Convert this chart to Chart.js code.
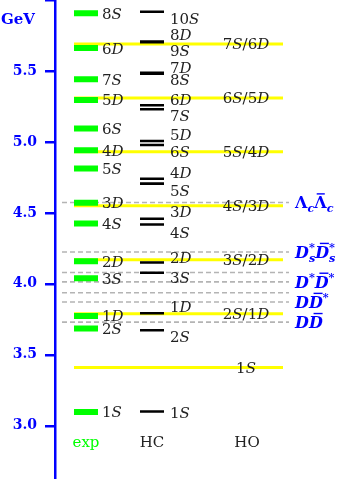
<!DOCTYPE html>
<html>
<head>
<meta charset="utf-8">
<script src="https://cdn.jsdelivr.net/npm/chart.js@4"></script>
<style>
  body { margin: 0; background: #fff; }
  canvas { display: block; }
</style>
</head>
<body>
<canvas id="levels" width="341" height="479"></canvas>
<script>
// Vector charmonium levels (GeV): experiment, HC model, HO model, open-charm thresholds
const expStates = ['1S', '2S', '1D', '3S', '2D', '4S', '3D', '5S', '4D', '6S', '5D', '7S', '6D', '8S'];
const expMass = [3.097, 3.686, 3.773, 4.040, 4.160, 4.426, 4.572, 4.812, 4.941, 5.094, 5.296, 5.442, 5.661, 5.907];

const hcStates = ['1S', '2S', '1D', '3S', '2D', '4S', '3D', '5S', '4D', '6S', '5D', '7S', '6D', '8S', '7D', '9S', '8D', '10S'];
const hcMass = [3.101, 3.673, 3.793, 4.078, 4.150, 4.418, 4.459, 4.706, 4.741, 4.978, 5.006, 5.230, 5.258, 5.481, 5.487, 5.702, 5.708, 5.917];
// where each HC name is written (they are spread out so they do not collide)
const hcLabelAt = [3.090, 3.630, 3.842, 4.042, 4.183, 4.364, 4.512, 4.654, 4.783, 4.929, 5.055, 5.188, 5.301, 5.442, 5.524, 5.646, 5.759, 5.870];

const hoStates = ['1S', '2S/1D', '3S/2D', '4S/3D', '5S/4D', '6S/5D', '7S/6D'];
const hoMass = [3.41, 3.79, 4.17, 4.55, 4.93, 5.31, 5.69];

const thresholdMass = [3.730, 3.872, 3.937, 4.014, 4.080, 4.224, 4.573];
const thresholdNames = [
  [['D', 'i'], ['D', 'ib']],
  [['D', 'i'], ['D', 'ib'], ['*', 'sup']],
  null,
  [['D', 'i'], ['*', 'sup'], ['D', 'ib'], ['*', 'sup']],
  null,
  [['D', 'i'], ['s|*', 'subsup'], ['D', 'ib'], ['s|*', 'subsup']],
  [['Λ', 'r'], ['c', 'sub'], ['Λ', 'rb'], ['c', 'sub']]
];

const yTicks = [3.0, 3.5, 4.0, 4.5, 5.0, 5.5];

// layout
const blue = '#0000ff', green = '#00ff00', yellow = '#ffff00', grey = '#b4b4b4', ink = '#222';
const serif = "'DejaVu Serif', serif";
const expSpan = [74, 98], hcSpan = [140, 164], hoSpan = [74, 283], thrSpan = [62, 289];

// one dataset per column: every level is a short horizontal segment
function segments(masses, span) {
  return masses.flatMap(m => [{ x: span[0], y: m }, { x: span[1], y: m }, { x: span[1], y: null }]);
}

function fontOf(kind, size, bold) {
  const italic = (kind === 'r' || kind === 'rb') ? '' : 'italic ';
  return italic + (bold ? 'bold ' : '') + size + 'px ' + serif;
}

// small math-like text: digits upright, letters italic, sub/superscripts and overbars
function drawRich(ctx, tokens, x, yc, size, color, opts = {}) {
  const bold = !!opts.bold, small = size * 0.7;
  const items = [];
  let w = 0;
  tokens.forEach(([t, k]) => {
    if (k === 'subsup') {
      const [lo, hi] = t.split('|');
      ctx.font = fontOf('i', small, bold);
      const a = ctx.measureText(lo).width, b = ctx.measureText(hi).width;
      items.push({ t: lo, k: 'sub', x: w }, { t: hi, k: 'sup', x: w });
      w += Math.max(a, b);
    } else {
      ctx.font = fontOf(k, (k === 'sub' || k === 'sup') ? small : size, bold);
      const tw = ctx.measureText(t).width;
      items.push({ t, k, x: w, w: tw });
      w += tw;
    }
  });
  const x0 = opts.align === 'center' ? x - w / 2 : x;
  const base = yc + size * 0.36;
  ctx.save();
  ctx.fillStyle = color;
  ctx.strokeStyle = color;
  ctx.textAlign = 'left';
  ctx.textBaseline = 'alphabetic';
  items.forEach(it => {
    const sub = it.k === 'sub', sup = it.k === 'sup';
    ctx.font = fontOf(it.k, (sub || sup) ? small : size, bold);
    const y = base + (sub ? size * 0.25 : sup ? -size * 0.42 : 0);
    ctx.fillText(it.t, x0 + it.x, y);
    if (it.k === 'ib' || it.k === 'rb') {
      const shift = it.k === 'ib' ? size * 0.12 : 0;
      ctx.lineWidth = bold ? 1.4 : 1;
      ctx.beginPath();
      ctx.moveTo(x0 + it.x + it.w * 0.2 + shift, base - size * 0.9);
      ctx.lineTo(x0 + it.x + it.w * 0.85 + shift, base - size * 0.9);
      ctx.stroke();
    }
  });
  ctx.restore();
}

const stateTokens = s => s.split('/').flatMap((p, i) =>
  [...(i ? [['/', 'r']] : []), [p.slice(0, -1), 'r'], [p.slice(-1), 'i']]);

const labelPlugin = {
  id: 'levelLabels',
  afterDatasetsDraw(chart) {
    const ctx = chart.ctx;
    const py = v => chart.scales.y.getPixelForValue(v);

    expStates.forEach((s, i) => drawRich(ctx, stateTokens(s), expSpan[1] + 4, py(expMass[i]), 15, ink));
    hcStates.forEach((s, i) => drawRich(ctx, stateTokens(s), hcSpan[1] + 6, py(hcLabelAt[i]), 15, ink));
    hoStates.forEach((s, i) => drawRich(ctx, stateTokens(s), 246, py(hoMass[i]), 15, ink, { align: 'center' }));
    thresholdNames.forEach((t, i) => {
      if (t) drawRich(ctx, t, thrSpan[1] + 6, py(thresholdMass[i]), 16, blue, { bold: true });
    });

    ctx.save();
    ctx.textAlign = 'center';
    ctx.textBaseline = 'middle';
    ctx.font = '15px ' + serif;
    ctx.fillStyle = green;
    ctx.fillText('exp', 86, 443);
    ctx.fillStyle = ink;
    ctx.fillText('HC', 152, 443);
    ctx.fillText('HO', 247, 443);
    ctx.font = 'bold 15px ' + serif;
    ctx.fillStyle = blue;
    ctx.fillText('GeV', 18, 20);
    ctx.restore();
  }
};

new Chart(document.getElementById('levels'), {
  type: 'scatter',
  data: {
    datasets: [
      { data: segments(expMass, expSpan), showLine: true, borderColor: green, borderWidth: 6, pointRadius: 0, spanGaps: false },
      { data: segments(hcMass, hcSpan), showLine: true, borderColor: '#000', borderWidth: 2.6, pointRadius: 0, spanGaps: false },
      { data: segments(hoMass, hoSpan), showLine: true, borderColor: yellow, borderWidth: 3, pointRadius: 0, spanGaps: false },
      { data: segments(thresholdMass, thrSpan), showLine: true, borderColor: grey, borderWidth: 1.6, borderDash: [5, 3], pointRadius: 0, spanGaps: false }
    ]
  },
  options: {
    responsive: false,
    animation: false,
    layout: { padding: 0 },
    plugins: { legend: { display: false }, tooltip: { enabled: false } },
    scales: {
      x: { type: 'linear', min: 55, max: 341, display: false },
      y: {
        min: 2.625,
        max: 6.0,
        afterFit(scale) {
          scale.width = 55;
          scale.paddingTop = 0;
          scale.paddingBottom = 0;
        },
        afterBuildTicks(scale) {
          scale.ticks = scale.ticks.filter(t => Math.abs(t.value * 2 - Math.round(t.value * 2)) < 1e-6);
        },
        ticks: {
          stepSize: 0.5,
          padding: 8,
          color: blue,
          font: { family: serif, weight: 'bold', size: 14 },
          callback: v => yTicks.includes(v) ? v.toFixed(1) : ''
        },
        grid: { drawOnChartArea: false, tickLength: 10, color: blue, lineWidth: 2.5 },
        border: { color: blue, width: 2.5 }
      }
    }
  },
  plugins: [labelPlugin]
});
</script>
</body>
</html>
